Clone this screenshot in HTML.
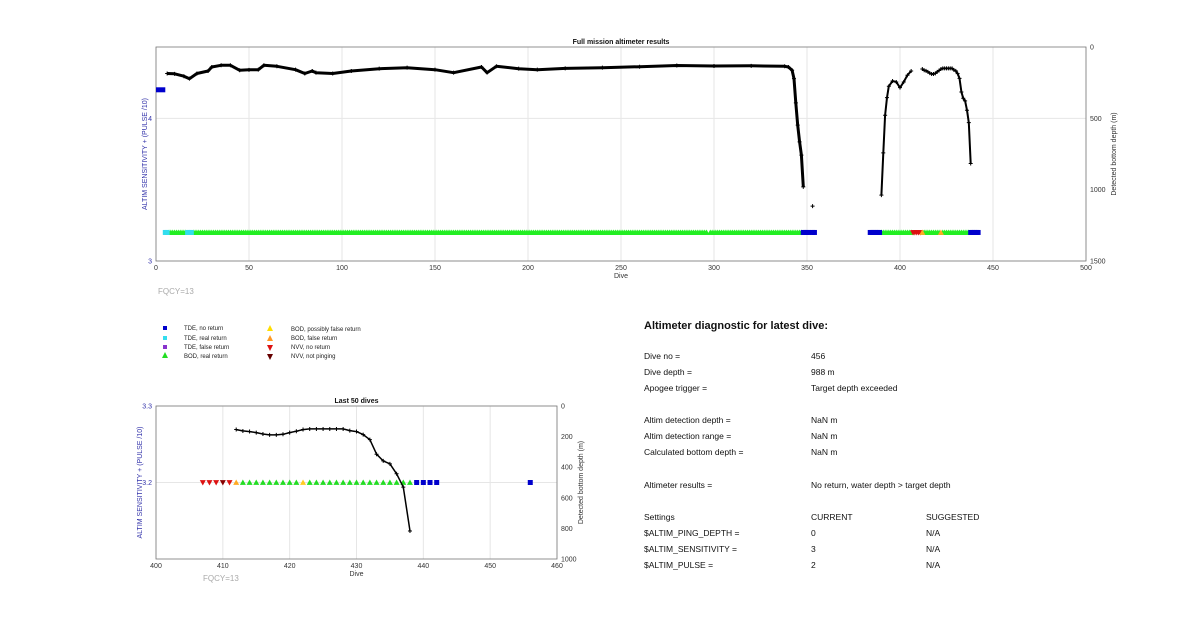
<!DOCTYPE html>
<html><head><meta charset="utf-8"><style>
body{margin:0;background:#fff;font-family:"Liberation Sans",sans-serif}
svg{display:block}
text{font-family:"Liberation Sans",sans-serif}
</style></head><body>
<svg id="s" width="1200" height="628" viewBox="0 0 1200 628" xmlns="http://www.w3.org/2000/svg">
<rect width="1200" height="628" fill="#fff"/>
<g id="top"></g>
<g id="bot"></g>
<g font-size="6" fill="#222">
 <rect x="163" y="326" width="4" height="4" fill="#0000cc"/><text x="184" y="330">TDE, no return</text>
 <rect x="163" y="336" width="4" height="4" fill="#33ddee"/><text x="184" y="340">TDE, real return</text>
 <rect x="163" y="345" width="4" height="4" fill="#8833cc"/><text x="184" y="349">TDE, false return</text>
 <path d="M165 352 L168 358 L162 358Z" fill="#22dd22"/><text x="184" y="358">BOD, real return</text>
 <path d="M270 325 L273 331 L267 331Z" fill="#ffdd00"/><text x="291" y="331">BOD, possibly false return</text>
 <path d="M270 335 L273 341 L267 341Z" fill="#ff9922"/><text x="291" y="340">BOD, false return</text>
 <path d="M267 345 L273 345 L270 351Z" fill="#dd1111"/><text x="291" y="349">NVV, no return</text>
 <path d="M267 354 L273 354 L270 360Z" fill="#660000"/><text x="291" y="358">NVV, not pinging</text>
</g>
<text x="158" y="294" font-size="8" fill="#aaa">FQCY=13</text>
<text x="203" y="581" font-size="8" fill="#aaa">FQCY=13</text>
<g font-size="8.5" fill="#111">
 <text x="644" y="329" font-size="11" font-weight="bold">Altimeter diagnostic for latest dive:</text>
 <text x="644" y="359">Dive no =</text><text x="811" y="359">456</text>
 <text x="644" y="375">Dive depth =</text><text x="811" y="375">988 m</text>
 <text x="644" y="391">Apogee trigger =</text><text x="811" y="391">Target depth exceeded</text>
 <text x="644" y="423">Altim detection depth =</text><text x="811" y="423">NaN m</text>
 <text x="644" y="439">Altim detection range =</text><text x="811" y="439">NaN m</text>
 <text x="644" y="455">Calculated bottom depth =</text><text x="811" y="455">NaN m</text>
 <text x="644" y="488">Altimeter results =</text><text x="811" y="488">No return, water depth &gt; target depth</text>
 <text x="644" y="520">Settings</text><text x="811" y="520">CURRENT</text><text x="926" y="520">SUGGESTED</text>
 <text x="644" y="536">$ALTIM_PING_DEPTH =</text><text x="811" y="536">0</text><text x="926" y="536">N/A</text>
 <text x="644" y="552">$ALTIM_SENSITIVITY =</text><text x="811" y="552">3</text><text x="926" y="552">N/A</text>
 <text x="644" y="568">$ALTIM_PULSE =</text><text x="811" y="568">2</text><text x="926" y="568">N/A</text>
</g>
</svg>
<script>
// ---- Top chart data ----
const topDepthDives=[6,10,15,18,22,28,30,35,40,45,50,55,58,65,75,80,84,86,95,105,120,135,150,160,175,178,183,195,205,220,240,260,280,300,320,338,340,342,343,344,345,346,347,348];
const topDepthVals=[186,188,205,222,186,168,140,128,128,163,160,159,128,135,159,186,168,180,186,168,152,145,159,180,140,180,135,152,159,150,145,138,130,133,132,135,140,163,222,392,548,665,758,980];
const topSingleDive=[353];
const topSingleVal=[1115];
const topDepth2Dives=[390,391,392,393,394,396,398,400,402,404,406];
const topDepth2Vals=[1038,742,478,355,275,238,245,285,245,198,168];
const topStartDive=[0,5];const topStartVal=[4.2];
const cyanDives=[5,6,17,18,19];
const blueDivesTop=[348,349,350,351,353,354,384,385,386,387,388,389,438,439,440,441,442];
const redDivesTop=[407,408,409,410,411];
const orangeDivesTop=[412,422];
const greenRanges=[[7,16],[20,296],[298,347],[390,406],[413,421],[423,437]];
const topMarkerLevel=3.2;
// ---- Bottom chart data ----
const botDepthDives=[412,413,414,415,416,417,418,419,420,421,422,423,424,425,426,427,428,429,430,431,432,433,434,435,436,437,438];
const botDepthVals=[154,163,167,174,183,189,189,185,174,165,154,150,150,150,150,150,150,161,167,187,220,315,359,378,443,530,817];
const botRed=[407,408,409,411];const botMaroon=[410];
const botOrange=[412];const botYellow=[422];
const botGreen=[413,414,415,416,417,418,419,420,421,423,424,425,426,427,428,429,430,431,432,433,434,435,436,437,438];
const botBlue=[439,440,441,442,456];
const topXTicks=[0,50,100,150,200,250,300,350,400,450,500];
const topLTicks=[3,4];const topRTicks=[0,500,1000,1500];
const botXTicks=[400,410,420,430,440,450,460];
const botLTicks=[3.2,3.3];const botRTicks=[0,200,400,600,800,1000];

const NS='http://www.w3.org/2000/svg';
function mk(p,t,a){const e=document.createElementNS(NS,t);for(const k in a)e.setAttribute(k,a[k]);p.appendChild(e);return e;}
function tri(p,x,y,s,up,c){return mk(p,'path',{d:up?`M${x} ${y-s} L${x+s} ${y+s*0.8} L${x-s} ${y+s*0.8}Z`:`M${x-s} ${y-s*0.8} L${x+s} ${y-s*0.8} L${x} ${y+s}Z`,fill:c});}

function axes(g,o){
  const {x0,x1,y0,y1,xd,ld,rd,xt,lt,rt,title,lblY,rLblX,ltfmt}=o;
  const X=v=>x0+(v-xd[0])/(xd[1]-xd[0])*(x1-x0);
  const L=v=>y1-(v-ld[0])/(ld[1]-ld[0])*(y1-y0);
  const R=v=>y0+(v-rd[0])/(rd[1]-rd[0])*(y1-y0);
  xt.forEach(v=>{const l=mk(g,'line',{x1:X(v),x2:X(v),y1:y0,y2:y1,stroke:'#e6e6e6','stroke-width':1});
    
    
    const t=mk(g,'text',{x:X(v),y:y1+9,'font-size':7,'text-anchor':'middle',fill:'#333'});t.textContent=v;
    
    });
  lt.forEach(v=>{const l=mk(g,'line',{x1:x0,x2:x1,y1:L(v),y2:L(v),stroke:'#e6e6e6'});
    
    
    const t=mk(g,'text',{x:x0-4,y:L(v)+2.5,'font-size':7,'text-anchor':'end',fill:'#3333aa'});t.textContent=ltfmt?v.toFixed(1):v;
    
    });
  rt.forEach(v=>{const t=mk(g,'text',{x:x1+4,y:R(v)+2.5,'font-size':7,fill:'#333'});t.textContent=v;
    
    });
  const b=mk(g,'rect',{x:x0,y:y0,width:x1-x0,height:y1-y0,fill:'none',stroke:'#777','stroke-width':0.8});
  
  
  let t=mk(g,'text',{x:(x0+x1)/2,y:y0-3,'font-size':7,'font-weight':'bold','text-anchor':'middle',fill:'#111'});t.textContent=title;
  
  
  t=mk(g,'text',{x:(x0+x1)/2,y:y1+17,'font-size':7,'text-anchor':'middle',fill:'#333'});t.textContent='Dive';
  
  
  t=mk(g,'text',{x:0,y:0,'font-size':7,'text-anchor':'middle',fill:'#3333aa',transform:`translate(${x0-lblY},${(y0+y1)/2}) rotate(-90)`});t.textContent='ALTIM SENSITIVITY + (PULSE /10)';
  
  
  t=mk(g,'text',{x:0,y:0,'font-size':7,'text-anchor':'middle',fill:'#333',transform:`translate(${x1+rLblX},${(y0+y1)/2}) rotate(-90)`});t.textContent='Detected bottom depth (m)';
  
  
  return {X,L,R};
}
function line(g,xs,ys,X,R,w,name){
  const d=xs.map((v,i)=>(i?'L':'M')+X(v).toFixed(1)+' '+R(ys[i]).toFixed(1)).join(' ');
  const p=mk(g,'path',{d,fill:'none',stroke:'#000','stroke-width':w,'stroke-linejoin':'round'});
  
  
  xs.forEach((v,i)=>{const m=mk(g,'path',{d:`M${X(v)-2} ${R(ys[i])} h4 M${X(v)} ${R(ys[i])-2} v4`,stroke:'#000','stroke-width':1});
    
    });
}
const tg=document.getElementById('top');
const T=axes(tg,{x0:156,x1:1086,y0:47,y1:261,xd:[0,500],ld:[3,4.5],rd:[0,1500],xt:topXTicks,lt:topLTicks,rt:topRTicks,title:'Full mission altimeter results',lblY:9,rLblX:30});
const sb=mk(tg,'rect',{x:T.X(topStartDive[0]),y:T.L(topStartVal[0])-2.5,width:T.X(topStartDive[1])-T.X(topStartDive[0]),height:5,fill:'#0000cc'});


const my=T.L(topMarkerLevel);
greenRanges.forEach(r=>{for(let d=r[0];d<=r[1];d++){const e=tri(tg,T.X(d),my,3,true,'#22ee22');
  
  }});
cyanDives.forEach(d=>{const e=mk(tg,'rect',{x:T.X(d)-2.5,y:my-2.5,width:5,height:5,fill:'#33ddee'});
  
  });
blueDivesTop.forEach(d=>{const e=mk(tg,'rect',{x:T.X(d)-2.5,y:my-2.5,width:5,height:5,fill:'#0000cc'});
  
  });
redDivesTop.forEach(d=>{const e=tri(tg,T.X(d),my,3,false,'#dd1111');
  
  });
orangeDivesTop.forEach(d=>{const e=tri(tg,T.X(d),my,3,true,'#ffaa22');
  
  });
line(tg,topDepthDives,topDepthVals,T.X,T.R,3,'depth-line-main');
line(tg,topDepth2Dives,topDepth2Vals,T.X,T.R,2,'depth-line-second');
line(tg,botDepthDives,botDepthVals,T.X,T.R,2,'depth-line-recent');
line(tg,topSingleDive,topSingleVal,T.X,T.R,1,'depth-single-point');
const bg=document.getElementById('bot');
const B=axes(bg,{x0:156,x1:557,y0:406,y1:559,xd:[400,460],ld:[3.1,3.3],rd:[0,1000],xt:botXTicks,lt:botLTicks,rt:botRTicks,title:'Last 50 dives',lblY:14,rLblX:26,ltfmt:true});
const by=B.L(3.2);
botRed.forEach(d=>{const e=tri(bg,B.X(d),by,3,false,'#dd1111');
  
  });
botMaroon.forEach(d=>{const e=tri(bg,B.X(d),by,3,false,'#880000');
  
  });
botOrange.forEach(d=>{const e=tri(bg,B.X(d),by,3,true,'#ffaa22');
  
  });
botYellow.forEach(d=>{const e=tri(bg,B.X(d),by,3,true,'#ffcc22');
  
  });
botGreen.forEach(d=>{const e=tri(bg,B.X(d),by,3,true,'#22dd22');
  
  });
botBlue.forEach(d=>{const e=mk(bg,'rect',{x:B.X(d)-2.5,y:by-2.5,width:5,height:5,fill:'#0000cc'});
  
  });
line(bg,botDepthDives,botDepthVals,B.X,B.R,1.5,'depth-line');
</script>
</body></html>
